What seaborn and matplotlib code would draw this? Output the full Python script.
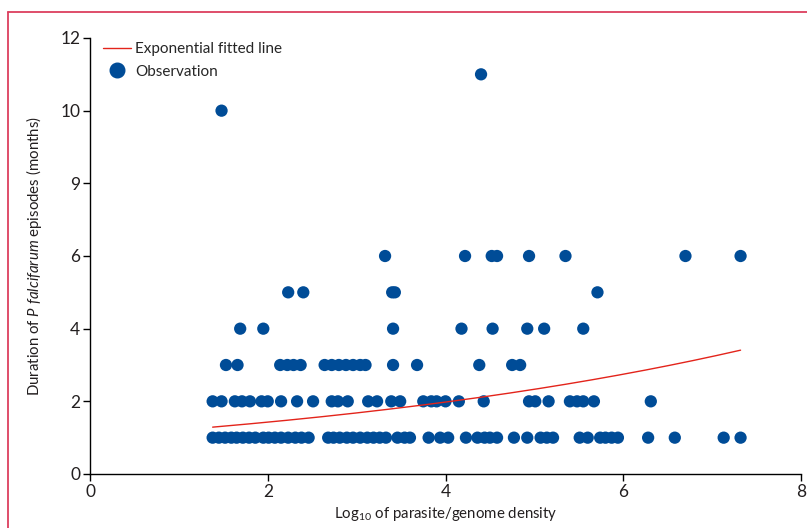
import numpy as np
import pandas as pd
import seaborn as sns
import matplotlib.pyplot as plt
from matplotlib.lines import Line2D

sns.set_theme(style="ticks")
plt.rcParams['font.family'] = ['Lato', 'DejaVu Sans']
plt.rcParams['mathtext.fontset'] = 'custom'
plt.rcParams['mathtext.rm'] = 'Lato'
plt.rcParams['mathtext.it'] = 'Lato:italic'

# log10 parasite density of each observation, grouped by episode duration (months)
dens_1 = [1.38, 1.45, 1.52, 1.59, 1.65, 1.72, 1.79, 1.86, 1.95, 2.01, 2.08, 2.15,
          2.23, 2.31, 2.38, 2.46, 2.68, 2.74, 2.81, 2.89, 2.96, 3.04, 3.12, 3.19,
          3.26, 3.33, 3.46, 3.54, 3.60, 3.81, 3.94, 4.03, 4.23, 4.36, 4.44, 4.50,
          4.58, 4.77, 4.92, 5.07, 5.14, 5.21, 5.51, 5.60, 5.74, 5.80, 5.87, 5.94,
          6.28, 6.58, 7.13, 7.32]
dens_2 = [1.38, 1.48, 1.63, 1.71, 1.80, 1.93, 2.00, 2.15, 2.33, 2.51, 2.72, 2.79,
          2.90, 3.13, 3.23, 3.39, 3.49, 3.75, 3.84, 3.90, 4.00, 4.15, 4.43, 4.94,
          5.01, 5.16, 5.40, 5.48, 5.55, 5.67, 6.31]
dens_3 = [1.53, 1.66, 2.14, 2.22, 2.29, 2.37, 2.64, 2.72, 2.80, 2.88, 2.96, 3.04,
          3.10, 3.41, 3.68, 4.38, 4.75, 4.84]
dens_4 = [1.69, 1.95, 3.41, 4.18, 4.53, 4.92, 5.11, 5.55]
dens_5 = [2.23, 2.40, 3.40, 3.43, 5.71]
dens_6 = [3.32, 4.22, 4.52, 4.58, 4.94, 5.35, 6.70, 7.32]
dens_10 = [1.48]
dens_11 = [4.40]

groups = {1: dens_1, 2: dens_2, 3: dens_3, 4: dens_4, 5: dens_5, 6: dens_6,
          10: dens_10, 11: dens_11}

# exponential fit y = a * exp(b * x)
fit_a = 1.029
fit_b = 0.1636
fit_range = [1.38, 7.32]

yticks = [0, 2, 4, 6, 8, 10, 12]
ytick_labels = ['0', '2', '4', '6', '9', '10', '12']
xticks = [0, 2, 4, 6, 8]

obs = pd.DataFrame([(x, d) for d, xs in groups.items() for x in xs],
                   columns=['density', 'duration'])
fx = np.linspace(fit_range[0], fit_range[1], 200)
fit = pd.DataFrame({'density': fx, 'duration': fit_a * np.exp(fit_b * fx)})

blue = '#004c97'
red = '#e3241b'
txt = '#231f20'

fig = plt.figure(figsize=(8.07, 5.28), dpi=100)
ax = fig.add_axes([90 / 807, 1 - 474 / 528, (801 - 90) / 807, (474 - 38) / 528])

sns.scatterplot(data=obs, x='density', y='duration', color=blue, s=78,
                edgecolor='none', linewidth=0, ax=ax, zorder=2)
sns.lineplot(data=fit, x='density', y='duration', color=red, linewidth=1,
             ax=ax, zorder=3)

ax.set_xlim(0, 8)
ax.set_ylim(0, 12)
ax.set_xticks(xticks)
ax.set_xticklabels([str(t) for t in xticks])
ax.set_yticks(yticks)
ax.set_yticklabels(ytick_labels)
ax.tick_params(axis='both', direction='out', length=5, width=1, color='black',
               labelsize=12.5, labelcolor=txt, pad=2)
for s in ['left', 'bottom']:
    ax.spines[s].set_color('black')
    ax.spines[s].set_linewidth(1)
sns.despine(ax=ax)

ax.set_xlabel('Log$_{10}$ of parasite/genome density', fontsize=10.8,
              color=txt, labelpad=4)
ax.set_ylabel('Duration of $\\it{P\\ falcifarum}$ episodes (months)', fontsize=10.8,
              color=txt, labelpad=12)

handles = [Line2D([], [], color=red, linewidth=1),
           Line2D([], [], color=blue, marker='o', linestyle='none', markersize=10.5)]
ax.legend(handles, ['Exponential fitted line', 'Observation'], loc='upper left',
          bbox_to_anchor=(0.018, 0.99), frameon=False, fontsize=11,
          borderpad=0, borderaxespad=0, handlelength=1.85, handletextpad=0.25,
          labelspacing=0.55)

# pink page frame (top and left edges visible)
frame = '#dc3f5e'
fig.add_artist(Line2D([8 / 807, 8 / 807], [0, 1 - 12 / 528], color=frame,
                      linewidth=1.3, transform=fig.transFigure))
fig.add_artist(Line2D([8 / 807, 1], [1 - 12 / 528, 1 - 12 / 528], color=frame,
                      linewidth=1.3, transform=fig.transFigure))

fig.savefig('out.png', dpi=100)
